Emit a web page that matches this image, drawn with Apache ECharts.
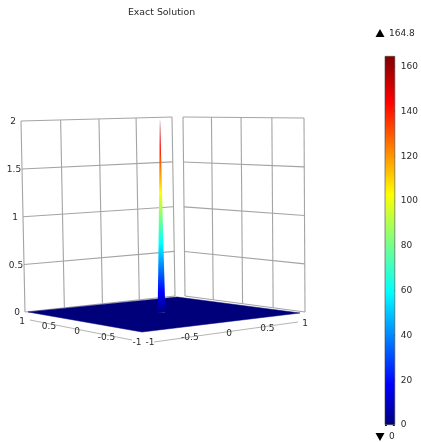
<!DOCTYPE html>
<html><head><meta charset="utf-8">
<style>html,body{margin:0;padding:0;background:#fff}#c{width:421px;height:442px}</style>
<script src="https://cdn.jsdelivr.net/npm/echarts@6/dist/echarts.min.js"></script>
</head><body><div id="c"></div>
<script>
// ---- data ----
const titleText = 'Exact Solution';
const xTicks = [-1, -0.5, 0, 0.5, 1];
const yTicks = [-1, -0.5, 0, 0.5, 1];
const zTicks = [0, 0.5, 1, 1.5, 2];
const colorTicks = [0, 20, 40, 60, 80, 100, 120, 140, 160];
const colorMin = 0;
const colorMax = 164.8;
const spikeCentre = [0, 0];
const spikeZ = [0, 0.13, 0.62, 1.17, 1.7, 2];
const spikeHalfWidth = [0.05, 0.047, 0.034, 0.021, 0.009, 0.001];
const jetStops = [[0, '#00007f'], [0.11, '#0000ff'], [0.36, '#00ffff'], [0.5, '#80ff80'], [0.625, '#ffff00'], [0.875, '#ff0000'], [1, '#7f0000']];

// ---- view calibration of the 3D box (screen px) ----
const view = {
  floor: [[142, 332], [300, 313], [177, 297], [28, 312]],     // (x,y)=(-1,-1),(1,-1),(1,1),(-1,1)
  leftWall: [[25, 312], [175, 296], [172, 117], [21, 121]],   // u -1..1, z 0..2
  rightWall: [[185, 296], [305, 312], [304, 118], [183, 117]],
  leftAxis: [[30, 320], [132, 340]],                          // y 1..-1
  rightAxis: [[154, 342], [298, 322]],                        // x -1..1
  leftLabels: [[22, 322], [137, 343], 0.92],
  rightLabels: [[150, 343], [305, 324], 1.04],
  zLabelDx: -8,
  zPx: 96, zLean: -0.75
};

function quadMap(q) {
  const [[x0, y0], [x1, y1], [x2, y2], [x3, y3]] = q;
  const dx1 = x1 - x2, dx2 = x3 - x2, sx = x0 - x1 + x2 - x3;
  const dy1 = y1 - y2, dy2 = y3 - y2, sy = y0 - y1 + y2 - y3;
  const den = dx1 * dy2 - dx2 * dy1;
  const g = (sx * dy2 - dx2 * sy) / den, h = (dx1 * sy - sx * dy1) / den;
  const a = x1 - x0 + g * x1, b = x3 - x0 + h * x3, d = y1 - y0 + g * y1, e = y3 - y0 + h * y3;
  return (s, t) => { const w = g * s + h * t + 1; return [(a * s + b * t + x0) / w, (d * s + e * t + y0) / w]; };
}
const mapFloor = quadMap(view.floor), mapLeft = quadMap(view.leftWall), mapRight = quadMap(view.rightWall);
const n = v => (v + 1) / 2;
const floorPt = (x, y) => mapFloor(n(x), n(y));
const leftWallPt = (u, z) => mapLeft(n(u), z / 2);
const rightWallPt = (u, z) => mapRight(n(u), z / 2);
const lerp = (e, t) => [e[0][0] + (e[1][0] - e[0][0]) * t, e[0][1] + (e[1][1] - e[0][1]) * t];
const warp = (t, k) => t * k / (1 + t * (k - 1));
const spikePt = (x, y, z) => { const p = floorPt(x, y); return [p[0] + z * view.zLean, p[1] - z * view.zPx]; };

// ---- rows for the series, built from the tick arrays ----
const wallRows = [];
zTicks.forEach(z => { wallRows.push(['L', -1, z, 1, z]); wallRows.push(['R', -1, z, 1, z]); });
xTicks.forEach(u => { wallRows.push(['L', u, 0, u, 2]); });
yTicks.forEach(u => { wallRows.push(['R', u, 0, u, 2]); });
const labelRows = [];
zTicks.forEach(z => labelRows.push(['z', z]));
yTicks.forEach(v => labelRows.push(['y', v]));
xTicks.forEach(v => labelRows.push(['x', v]));

const txt = '#2a2a2a', font = '9px "DejaVu Sans"', lineCol = '#a4a4a4';
const jetGrad = () => new echarts.graphic.LinearGradient(0, 1, 0, 0,
  jetStops.map(s => ({ offset: s[0], color: s[1] })));

function px(api, p) { return api.coord(p); }

const chart = echarts.init(document.getElementById('c'), null, { renderer: 'canvas' });
chart.setOption({
  backgroundColor: '#fff',
  animation: false,
  title: { text: titleText, left: 156.5, top: 3, textAlign: 'center',
    textStyle: { fontFamily: 'DejaVu Sans', fontSize: 9.4, fontWeight: 'normal', color: txt } },
  grid: [
    { left: 0, right: 0, top: 0, bottom: 0 },
    { left: 385, width: 12, top: 56, height: 369 }
  ],
  xAxis: [
    { type: 'value', gridIndex: 0, min: 0, max: 421, show: false },
    { type: 'category', gridIndex: 1, data: ['c'], show: false }
  ],
  yAxis: [
    { type: 'value', gridIndex: 0, min: 0, max: 442, inverse: true, show: false },
    { type: 'value', gridIndex: 1, min: colorMin, max: colorMax, position: 'right',
      splitLine: { show: false }, axisLine: { show: false },
      axisTick: { show: true, inside: true, length: 2, lineStyle: { color: '#111' }, customValues: colorTicks },
      axisLabel: { color: txt, fontFamily: 'DejaVu Sans', fontSize: 9, margin: 6, customValues: colorTicks } },
    { type: 'value', gridIndex: 1, min: colorMin, max: colorMax, position: 'left',
      splitLine: { show: false }, axisLine: { show: false },
      axisTick: { show: true, inside: true, length: 2, lineStyle: { color: '#111' }, customValues: colorTicks },
      axisLabel: { show: false } }
  ],
  series: [
    { type: 'custom', name: 'walls', coordinateSystem: 'cartesian2d', xAxisIndex: 0, yAxisIndex: 0, clip: false, z: 1,
      encode: { x: 1, y: 2 }, data: wallRows,
      renderItem(p, api) {
        const r = wallRows[p.dataIndex], f = r[0] === 'L' ? leftWallPt : rightWallPt;
        const a = px(api, f(r[1], r[2])), b = px(api, f(r[3], r[4]));
        return { type: 'line', shape: { x1: a[0], y1: a[1], x2: b[0], y2: b[1] }, style: { stroke: lineCol, lineWidth: 1.1 } };
      } },
    { type: 'custom', name: 'axes', coordinateSystem: 'cartesian2d', xAxisIndex: 0, yAxisIndex: 0, clip: false, z: 1,
      data: [[0], [1]],
      renderItem(p, api) {
        const e = p.dataIndex ? view.rightAxis : view.leftAxis;
        const a = px(api, e[0]), b = px(api, e[1]);
        return { type: 'line', shape: { x1: a[0], y1: a[1], x2: b[0], y2: b[1] }, style: { stroke: '#b5b5b5', lineWidth: 1 } };
      } },
    { type: 'custom', name: 'floor', coordinateSystem: 'cartesian2d', xAxisIndex: 0, yAxisIndex: 0, clip: false, z: 2,
      data: [[0]],
      renderItem(p, api) {
        const pts = [[-1, -1], [1, -1], [1, 1], [-1, 1]].map(c => px(api, floorPt(c[0], c[1])));
        return { type: 'polygon', shape: { points: pts }, style: { fill: '#00007a', stroke: '#00007a', lineWidth: 0.5 } };
      } },
    { type: 'custom', name: 'spike', coordinateSystem: 'cartesian2d', xAxisIndex: 0, yAxisIndex: 0, clip: false, z: 3,
      data: [[0]],
      renderItem(p, api) {
        const [cx, cy] = spikeCentre;
        const left = spikeZ.map((z, i) => px(api, spikePt(cx - spikeHalfWidth[i], cy, z)));
        const right = spikeZ.map((z, i) => px(api, spikePt(cx + spikeHalfWidth[i], cy, z))).reverse();
        const r = spikeHalfWidth[0];
        const foot = [[cx - r, cy], [cx, cy - r], [cx + r, cy], [cx, cy + r]].map(c => px(api, floorPt(c[0], c[1])));
        return { type: 'group', children: [
          { type: 'polygon', shape: { points: foot }, style: { fill: '#2a3a98' } },
          { type: 'polygon', shape: { points: left.concat(right) }, style: { fill: jetGrad() } }
        ] };
      } },
    { type: 'custom', name: 'tickLabels', coordinateSystem: 'cartesian2d', xAxisIndex: 0, yAxisIndex: 0, clip: false, z: 4,
      data: labelRows,
      renderItem(p, api) {
        const [k, v] = labelRows[p.dataIndex];
        let q;
        if (k === 'z') { q = leftWallPt(-1, v); q = [q[0] + view.zLabelDx, q[1] + 1]; }
        else if (k === 'y') q = lerp(view.leftLabels, warp((1 - v) / 2, view.leftLabels[2]));
        else q = lerp(view.rightLabels, warp((1 + v) / 2, view.rightLabels[2]));
        const c = px(api, q);
        return { type: 'text', style: { text: String(v), x: c[0], y: c[1], align: 'center', verticalAlign: 'middle', font, fill: txt } };
      } },
    { type: 'bar', name: 'colorbar', xAxisIndex: 1, yAxisIndex: 1, data: [colorMax], barWidth: 12, silent: true, z: 2,
      itemStyle: { color: jetGrad(), borderColor: '#444', borderWidth: 0.6 } }
  ],
  graphic: [
    { type: 'polygon', shape: { points: [[380, 29], [384.5, 37], [375.5, 37]] }, style: { fill: '#000' } },
    { type: 'text', style: { text: String(colorMax), x: 389, y: 33.5, verticalAlign: 'middle', font, fill: txt } },
    { type: 'polygon', shape: { points: [[380, 441], [384.5, 433], [375.5, 433]] }, style: { fill: '#000' } },
    { type: 'text', style: { text: String(colorMin), x: 389, y: 437, verticalAlign: 'middle', font, fill: txt } }
  ]
});
</script></body></html>
